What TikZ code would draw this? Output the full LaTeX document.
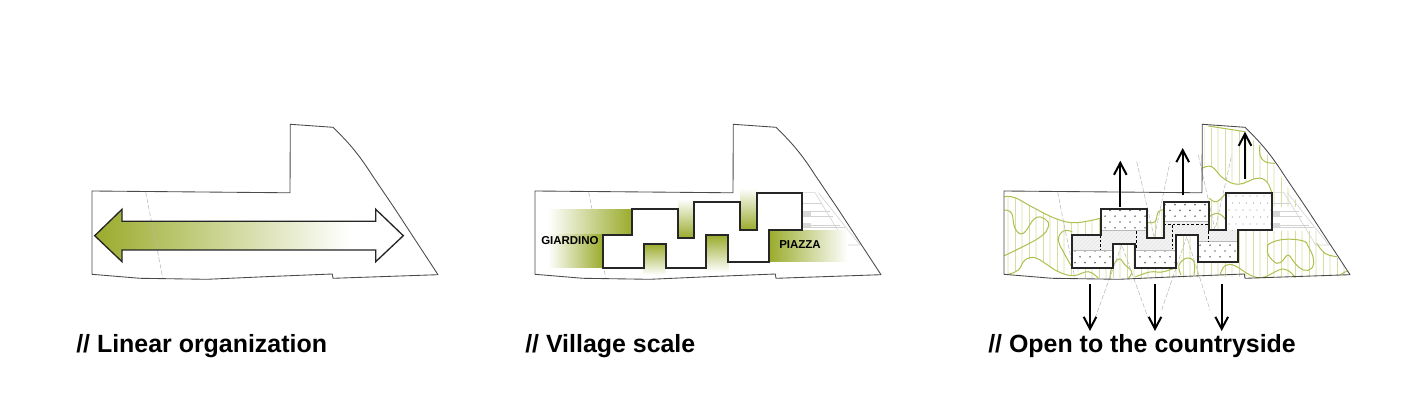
\documentclass[tikz,border=0pt]{standalone}
\usepackage{fontspec}
\setmainfont{Liberation Sans}
\usetikzlibrary{arrows.meta,patterns}
\definecolor{oliv}{HTML}{9AAB2B}
\definecolor{curveg}{HTML}{B0BF4E}
\definecolor{stripeA}{HTML}{F1F3DE}
\definecolor{stripeB}{HTML}{D5DDA0}
\definecolor{siteline}{HTML}{4A4A4A}
\def\sitepath{(92,191) -- (290,192.8) -- (290.3,124.3) -- (333,127.3) .. controls (348,142) and (358,153) .. (372,175) -- (395,209) -- (438,274.7) -- (333,278.3) -- (332.3,274) -- (270,276.5) -- (207,279.3) -- (140,278.3) -- (92,274.3) -- cycle}
\def\bldg{(603,235) -- (631.7,235) -- (631.7,209.3) -- (678,209.3) -- (678,237.7) -- (694.3,237.7) -- (694.3,201.7) -- (740,201.7) -- (740,230) -- (757,230) -- (757,192.7) -- (802.3,192.7) -- (802.3,230.3) -- (769,230.3) -- (769,261.7) -- (728.3,261.7) -- (728.3,235) -- (706.3,235) -- (706.3,267.7) -- (665.7,267.7) -- (665.7,243.7) -- (643.7,243.7) -- (643.7,267.7) -- (603,267.7) -- cycle}
\newcommand{\stairs}{%
  \draw (359.3,192.7) -- (372,192.7) -- (403.7,245) -- (417,245);
  \draw (375.3,192.7) -- (417,245);
  \draw (359.3,203) -- (378.7,203);
  \draw (359.3,211.7) -- (387,211.7);
  \draw (359.3,216.7) -- (390.3,216.7);
  \draw (359.3,225) -- (397,225);
  \draw (359.3,227.3) -- (402,227.3);
  \fill[gray!30] (359.3,212) rectangle (368,216.5);
  \fill[gray!30] (359.3,223) rectangle (368,227);
}
\newcommand{\stripes}{%
  \foreach \x in {1008,1022,...,1344}{\draw[stripeA,line width=1.1pt] (\x,120) -- (\x,285);}
  \foreach \x in {1015,1029,...,1344}{\draw[stripeB,line width=.6pt] (\x,120) -- (\x,285);}
}
\newcommand{\dotgrid}[1]{%
  \foreach \r in {0,...,16}{
    \foreach \c in {0,...,21}{
      \pgfmathsetmacro{\dx}{1065+\c*#1+mod(\r,2)*#1/2}
      \pgfmathsetmacro{\dy}{193+\r*#1*0.58}
      \fill[gray!90!black] (\dx,\dy) circle[radius=.95];
    }
  }
}
\tikzset{
  x=.75pt,y=-.75pt,
  sitestyle/.style={draw=siteline,line width=.65pt,line join=round},
  sightline/.style={draw=gray!55,line width=.4pt,dash pattern=on 3.5pt off 1.5pt},
  bldgstyle/.style={draw=black!85,line width=1.35pt,line join=miter},
  greencurve/.style={draw=curveg,line width=.75pt},
  stairline/.style={draw=gray!35,line width=.45pt},
  dashint/.style={draw=black,line width=.75pt,dash pattern=on 2pt off 1.5pt},
  viewarrow/.style={draw=black,line width=1.75pt,-{Straight Barb[length=9pt,width=9.5pt,line width=1.5pt]}},
  title/.style={anchor=base west,inner sep=0pt,font=\fontsize{18.7pt}{20pt}\selectfont\bfseries},
  small/.style={anchor=base west,inner sep=0pt,font=\fontsize{8.6pt}{10pt}\selectfont\bfseries},
}
\begin{document}
\begin{tikzpicture}
\useasboundingbox (0,0) rectangle (1417,402);
\fill[white] (0,0) rectangle (1417,402);

% ---------- site 1 ----------
\begin{scope}
  \clip (94.7,235.7) -- (122,209.3) -- (122,221.3) -- (375.7,221.3) -- (375.7,209.3) -- (403.3,235.7) -- (375.7,261.7) -- (375.7,250) -- (122,250) -- (122,261.7) -- cycle;
  \shade[left color=oliv,right color=white] (94,205) rectangle (350,265);
\end{scope}
\draw[sightline] (145.7,192) -- (151.7,223) -- (157.3,250) -- (162.7,277.7);
\draw[sitestyle] \sitepath;
\draw[bldgstyle,line width=1pt] (94.7,235.7) -- (122,209.3) -- (122,221.3) -- (375.7,221.3) -- (375.7,209.3) -- (403.3,235.7) -- (375.7,261.7) -- (375.7,250) -- (122,250) -- (122,261.7) -- cycle;
\node[title] (t1) at (76,353) {// Linear organization};

% ---------- site 2 ----------
\begin{scope}[shift={(443,0)}]
  \begin{scope}[stairline] \stairs \end{scope}
  \draw[sightline] (145.7,192) -- (151.7,223) -- (157.3,250) -- (162.7,277.7);
\end{scope}
\shade[left color=white,right color=oliv] (548,209.3) rectangle (632,235);
\shade[left color=white,right color=oliv] (548,235) rectangle (603,267.7);
\shade[left color=oliv,right color=white] (769,230.3) rectangle (848,261.7);
\shade[top color=white,bottom color=oliv] (678,199) rectangle (694.3,237.7);
\shade[top color=white,bottom color=oliv] (740,188) rectangle (757,230);
\shade[top color=oliv,bottom color=white] (643.7,243.7) rectangle (665.7,275);
\shade[top color=oliv,bottom color=white] (706.3,235) rectangle (728.3,272);
\draw[sitestyle,shift={(443,0)}] \sitepath;
\draw[bldgstyle] \bldg;
\node[small] (giardino) at (541,245) {GIARDINO};
\node[small] (piazza) at (779,248.3) {PIAZZA};
\node[title] (t2) at (525,353) {// Village scale};

% ---------- site 3 ----------
% stripes by zones
\begin{scope}
  \clip (1004,197) -- (1015,198) -- (1032,207) -- (1055,218) -- (1075,223) -- (1100,218) -- (1100,234) -- (1072,234) -- (1072,268) -- (1073,275.7) -- (1058,271.7) -- (1045,263) -- (1035,258) -- (1025,260) -- (1018,270) -- (1008,274) -- (1004,274) -- cycle;
  \stripes
\end{scope}
\begin{scope}
  \clip (1204,127) -- (1245,131.5) -- (1267,154) -- (1300,207) -- (1272,207) -- (1272,192) -- (1267,182) -- (1257,178) -- (1238,184) -- (1223,178) -- (1212,167) -- (1204,168) -- cycle;
  \stripes
\end{scope}
\begin{scope}
  \clip (1197,262) -- (1238,262) -- (1238,231) -- (1320,231) -- (1320,248) -- (1325,253) -- (1337,257) -- (1350,275) -- (1295,278) -- (1263,277) -- (1197,277) -- cycle;
  \stripes
\end{scope}
\begin{scope}
  \clip (1073,268) -- (1112,268) -- (1112,244) -- (1135,244) -- (1135,268) -- (1175,268) -- (1175,235) -- (1197,235) -- (1197,278) -- (1085,278) -- cycle;
  \stripes
\end{scope}
\begin{scope}
  \clip (1146,222) -- (1155,222) -- (1158,212) -- (1164,210) -- (1164,238) -- (1146,238) -- cycle;
  \stripes
\end{scope}
\begin{scope}
  \clip (1209,202) rectangle (1226,230);
  \stripes
\end{scope}

% green curves
\draw[greencurve] plot[smooth,tension=.7] coordinates {(1004.3,196.7) (1015,197.7) (1031.7,206.7) (1055,218.3) (1075,222.7) (1100.3,218.3)};
\draw[greencurve] plot[smooth,tension=.7] coordinates {(1004.3,210) (1011.7,213.3) (1015,228.3) (1023.3,233.3) (1035,218.3) (1045,219) (1048.3,226.7) (1038.3,238.3) (1004.3,255.7)};
\draw[greencurve] plot[smooth,tension=.7] coordinates {(1008.3,274.3) (1018.3,270) (1025,260) (1035,257.7) (1045,263.3) (1058.3,271.7) (1073.3,275.7) (1088.3,271.7) (1098.3,278.3)};
\draw[greencurve] plot[smooth,tension=.7] coordinates {(1072.3,231.7) (1063.3,231) (1058.3,240) (1063.3,251.7) (1072.3,267.7)};
\draw[greencurve] plot[smooth,tension=.7] coordinates {(1110,278.3) (1111.7,268.3) (1119,259) (1125,265) (1131.7,271.7) (1128.3,278.3)};
\draw[greencurve] plot[smooth,tension=.7] coordinates {(1135,277) (1150,272) (1162,272) (1175,268)};
\draw[greencurve] plot[smooth,tension=.7] coordinates {(1181,275) (1179,265) (1187,258) (1194,262) (1194,275)};
\draw[greencurve] plot[smooth,tension=.7] coordinates {(1147.7,222.3) (1155,221.7) (1158.3,211.7) (1163.3,210)};
\draw[greencurve] plot[smooth,tension=.7] coordinates {(1209.3,198.3) (1216.7,201.7) (1225.7,193.3)};
\draw[greencurve] plot[smooth,tension=.7] coordinates {(1209.3,216.7) (1216.7,213.3) (1223.3,216.7) (1226.7,221.7)};
\draw[greencurve] plot[smooth,tension=.7] coordinates {(1202.3,168.3) (1211.7,166.7) (1223.3,178.3) (1238.3,184.3) (1256.7,178.3) (1266.7,181.7) (1271.7,192.7)};
\draw[greencurve] (1208.3,126) -- (1245,131.7);
\draw[greencurve] plot[smooth,tension=.7] coordinates {(1260,145) (1260,155) (1265,161.7) (1275,163.3)};
\draw[greencurve] plot[smooth cycle,tension=.7] coordinates {(1270,243.3) (1285,239.3) (1303.3,241) (1308.3,246.7) (1313.3,258.3) (1311.7,268.3) (1303.3,270) (1295,263.3) (1288.3,255) (1283.3,260) (1276.7,263.3) (1268.3,255) (1267.7,248.3)};
\draw[greencurve] plot[smooth,tension=.7] coordinates {(1220,275) (1225,265.7) (1235,265.7) (1250,275) (1263.3,277.3) (1283.3,269) (1295,277.3)};
\draw[greencurve] plot[smooth,tension=.7] coordinates {(1316.7,243.3) (1325,253.3) (1336.7,256.7)};
\draw[greencurve] plot[smooth,tension=.7] coordinates {(1340,275) (1346.7,271)};

% stairs and sight lines
\begin{scope}[shift={(912,0)}]
  \begin{scope}[stairline] \stairs \end{scope}
  \draw[sightline] (145.7,192) -- (151.7,223) -- (157.3,250) -- (162.7,277.7);
\end{scope}
\coordinate (ap1) at (1154.3,237.7);
\coordinate (ap2) at (1215,230);
\coordinate (ap3) at (1121.7,245);
\coordinate (ap4) at (1186.7,236.7);
\draw[sightline] (1136.7,161.7) -- (ap1) -- (1170,161.7);
\draw[sightline] (1198.3,155) -- (ap2) -- (1231.7,155);
\draw[sightline] (1095,318.3) -- (ap3) -- (1148.3,318.3);
\draw[sightline] (1161.7,310) -- (ap4) -- (1210,310);

\draw[sitestyle,shift={(912,0)}] \sitepath;

% building
\fill[white,shift={(469.3,0)}] \bldg;
\def\hatchreg{(1072.3,234.3) -- (1100.7,234.3) -- (1100.7,230.7) -- (1146.7,230.7) -- (1146.7,237.7) -- (1163.3,237.7) -- (1163.3,221.7) -- (1209.3,221.7) -- (1209.3,230) -- (1225.7,230) -- (1237.7,230) -- (1237.7,241.5) -- (1197,241.5) -- (1197,235) -- (1174.7,235) -- (1174.7,250) -- (1134.7,250) -- (1134.7,244) -- (1112.7,244) -- (1112.7,250) -- (1072.3,250) -- cycle}
\fill[gray!10] \hatchreg;
\fill[pattern=north east lines,pattern color=gray!18] \hatchreg;
\begin{scope}
  \clip (1100.7,210) rectangle (1146.7,230.7)
        (1163.3,202) rectangle (1209.3,221.7)
        (1072.3,250) rectangle (1112.7,267.7)
        (1134.7,250) rectangle (1174.7,267.7)
        (1197,241.5) rectangle (1237.7,261.7);
  \dotgrid{10}
\end{scope}
\begin{scope}
  \clip (1225.7,192.7) rectangle (1271.7,230.7);
  \foreach \r in {0,...,5}{
    \foreach \c in {0,...,9}{
      \pgfmathsetmacro{\dx}{1222+\c*7+mod(\r,2)*3.5}
      \pgfmathsetmacro{\dy}{196+\r*7}
      \fill[gray!75] (\dx,\dy) circle[radius=.6];
    }
  }
\end{scope}
\draw[gray!55,line width=.5pt] (1072.3,250) -- (1112.7,250) (1134.7,250) -- (1174.7,250)
  (1100.7,230.7) -- (1146.7,230.7) (1163.3,221.7) -- (1209.3,221.7) (1197,241.5) -- (1237.7,241.5);
\draw[dashint] (1100.7,235) -- (1100.7,249.5);
\draw[dashint] (1136.7,231) -- (1136.7,249.5);
\draw[dashint] (1172.7,225) -- (1172.7,249.5);
\draw[dashint] (1163.3,225) -- (1208.3,225) -- (1208.3,241);
\draw[bldgstyle,shift={(469.3,0)}] \bldg;

% view arrows
\coordinate (u1a) at (1120.3,207.3); \coordinate (u1b) at (1120.3,160.7);
\coordinate (u2a) at (1182.7,195);   \coordinate (u2b) at (1182.7,148);
\coordinate (u3a) at (1245,179);     \coordinate (u3b) at (1245,131.7);
\coordinate (d1a) at (1090,284.3);   \coordinate (d1b) at (1090,331);
\coordinate (d2a) at (1155,284.3);   \coordinate (d2b) at (1155,331);
\coordinate (d3a) at (1221.7,284.3); \coordinate (d3b) at (1221.7,331);
\draw[viewarrow] (u1a) -- (u1b);
\draw[viewarrow] (u2a) -- (u2b);
\draw[viewarrow] (u3a) -- (u3b);
\draw[viewarrow] (d1a) -- (d1b);
\draw[viewarrow] (d2a) -- (d2b);
\draw[viewarrow] (d3a) -- (d3b);
\node[title] (t3) at (988,353) {// Open to the countryside};
\end{tikzpicture}
\end{document}
